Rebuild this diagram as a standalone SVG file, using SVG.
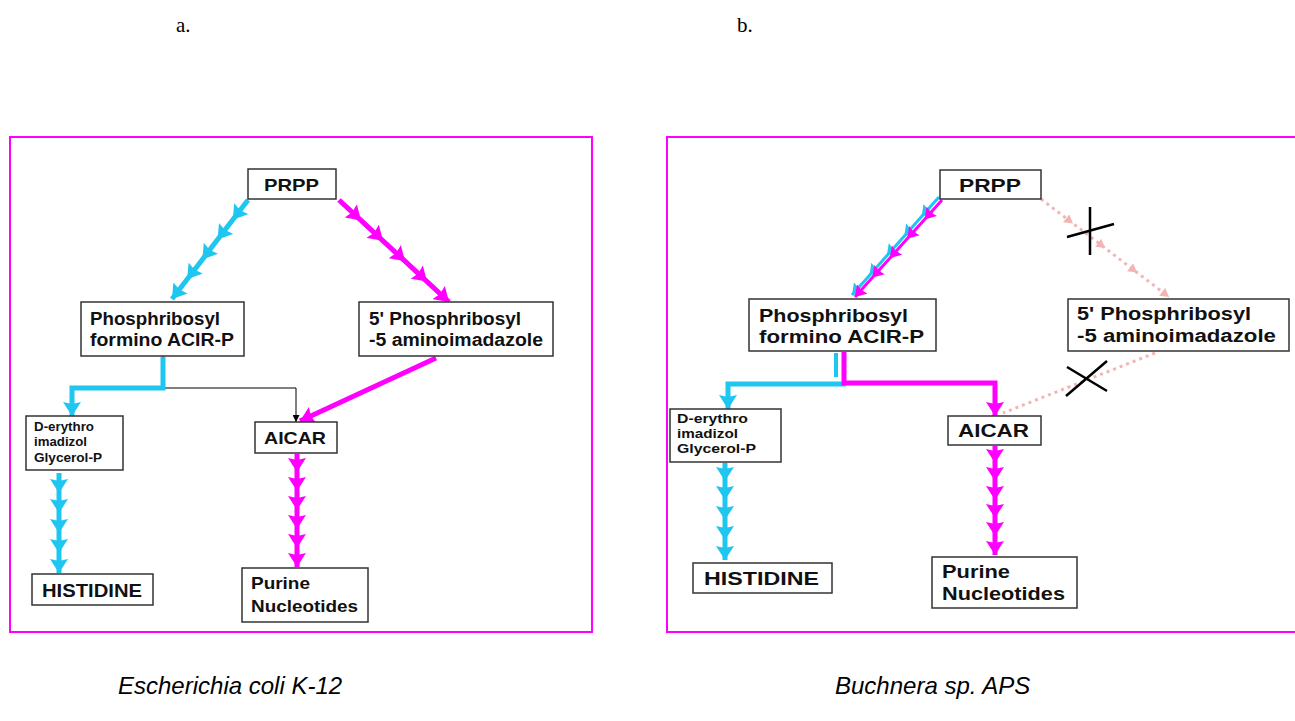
<svg xmlns="http://www.w3.org/2000/svg" width="1295" height="721" viewBox="0 0 1295 721">
<style>
.box{fill:#fff;stroke:#333;stroke-width:1.5}
.lbl{font-family:"Liberation Sans",Arial,sans-serif;font-weight:bold;fill:#111}
.frame{fill:none;stroke:#FF00FF;stroke-width:2}
.cy{fill:none;stroke:#1EC6F0;stroke-linejoin:miter}
.mg{fill:none;stroke:#FF00FF;stroke-linejoin:miter}
.cross{stroke:#000;stroke-width:2.5;fill:none}
.cap{font-family:"Liberation Sans",Arial,sans-serif;font-style:italic;font-size:24px;fill:#000}
.let{font-family:"Liberation Serif","Times New Roman",serif;font-size:21px;fill:#000}
</style>
<defs>
<marker id="hc" viewBox="0 0 14 18" refX="14" refY="9" markerWidth="14" markerHeight="18" markerUnits="userSpaceOnUse" orient="auto"><path d="M0,0 L14,9 L0,18 L2,9 z" fill="#1EC6F0"/></marker>
<marker id="hm" viewBox="0 0 14 18" refX="14" refY="9" markerWidth="14" markerHeight="18" markerUnits="userSpaceOnUse" orient="auto"><path d="M0,0 L14,9 L0,18 L2,9 z" fill="#FF00FF"/></marker>
<marker id="hcs" viewBox="0 0 14 18" refX="14" refY="9" markerWidth="11" markerHeight="14" markerUnits="userSpaceOnUse" orient="auto"><path d="M0,0 L14,9 L0,18 L2,9 z" fill="#1EC6F0"/></marker>
<marker id="hms" viewBox="0 0 14 18" refX="14" refY="9" markerWidth="11" markerHeight="14" markerUnits="userSpaceOnUse" orient="auto"><path d="M0,0 L14,9 L0,18 L2,9 z" fill="#FF00FF"/></marker>
<marker id="hp" viewBox="0 0 12 14" refX="12" refY="7" markerWidth="9" markerHeight="10" markerUnits="userSpaceOnUse" orient="auto"><path d="M0,0 L12,7 L0,14 z" fill="#F4B4B4"/></marker>
<marker id="hk" viewBox="0 0 10 10" refX="10" refY="5" markerWidth="7" markerHeight="7" markerUnits="userSpaceOnUse" orient="auto"><path d="M0,0 L10,5 L0,10 z" fill="#000"/></marker>
</defs>

<text class="let" x="176" y="32">a.</text>
<text class="let" x="737" y="32">b.</text>

<rect class="frame" x="10" y="137" width="582" height="495"/>
<path class="frame" d="M1300,137 H667 V632 H1300"/>

<g id="connectors">
  <!-- panel a -->
  <polyline class="cy" stroke-width="5" points="248,200 232.8,219.8 217.6,239.6 202.4,259.4 187.2,279.2 172,299" marker-mid="url(#hc)" marker-end="url(#hc)"/>
  <polyline class="mg" stroke-width="5" points="339,200 361,220.4 383,240.8 405,261.2 427,281.6 449,302" marker-mid="url(#hm)" marker-end="url(#hm)"/>
  <polyline fill="none" stroke="#000" stroke-width="1" points="163,356 163,388 296,388 296,422" marker-end="url(#hk)"/>
  <polyline class="cy" stroke-width="5" points="163,357 163,388 72,388 72,416" marker-end="url(#hc)"/>
  <line class="mg" stroke-width="5" x1="436" y1="358" x2="300" y2="421" marker-end="url(#hm)"/>
  <polyline class="cy" stroke-width="5" points="59,473 59,493 59,513 59,533 59,553 59,573" marker-mid="url(#hc)" marker-end="url(#hc)"/>
  <polyline class="mg" stroke-width="5" points="297,454 297,472 297,491 297,510 297,529 297,548 297,567" marker-mid="url(#hm)" marker-end="url(#hm)"/>
  <!-- panel b -->
  <polyline class="cy" stroke-width="3" points="939,197 921.6,216.6 904.2,236.2 886.8,255.8 869.4,275.4 852,295" marker-mid="url(#hcs)" marker-end="url(#hcs)"/>
  <polyline class="mg" stroke-width="3" points="942,200 924.6,219.4 907.2,238.8 889.8,258.2 872.4,277.6 855,297" marker-mid="url(#hms)" marker-end="url(#hms)"/>
  <polyline fill="none" stroke="#F4B4B4" stroke-width="3" stroke-dasharray="3 4" points="1041,199 1073,223.5 1105,248 1137,272.5 1169,297" marker-mid="url(#hp)" marker-end="url(#hp)"/>
  <line stroke="#F4B4B4" stroke-width="3" stroke-dasharray="3 4" x1="1155" y1="353" x2="1003" y2="413"/>
  <line class="cy" stroke-width="4" x1="836" y1="353" x2="836" y2="377"/>
  <polyline class="cy" stroke-width="5" points="846,384 728,384 728,409" marker-end="url(#hc)"/>
  <polyline class="mg" stroke-width="5" points="844,352 844,383 995,383 995,416" marker-end="url(#hm)"/>
  <polyline class="cy" stroke-width="5" points="725,463 725,481 725,500 725,520 725,540 725,560" marker-mid="url(#hc)" marker-end="url(#hc)"/>
  <polyline class="mg" stroke-width="5" points="995,446 995,463 995,481 995,500 995,518 995,536 995,555" marker-mid="url(#hm)" marker-end="url(#hm)"/>
  <!-- crosses -->
  <path class="cross" d="M1090,207 V255 M1067,237 L1114,224"/>
  <path class="cross" d="M1067,367 L1107,391 M1066,396 L1107,361"/>
</g>

<!-- panel a nodes -->
<g id="a-prpp"><rect class="box" x="248" y="169" width="88" height="30"/><text class="lbl" font-size="17" x="264" y="191" textLength="55" lengthAdjust="spacingAndGlyphs">PRPP</text></g>
<g id="a-phos"><rect class="box" x="81" y="302" width="163" height="54"/><text class="lbl" font-size="18" x="90" y="325" textLength="130" lengthAdjust="spacingAndGlyphs">Phosphribosyl</text><text class="lbl" font-size="18" x="90" y="346" textLength="144" lengthAdjust="spacingAndGlyphs">formino ACIR-P</text></g>
<g id="a-amino"><rect class="box" x="359" y="302" width="194" height="54"/><text class="lbl" font-size="18" x="369" y="325" textLength="152" lengthAdjust="spacingAndGlyphs">5' Phosphribosyl</text><text class="lbl" font-size="18" x="369" y="346" textLength="174" lengthAdjust="spacingAndGlyphs">-5 aminoimadazole</text></g>
<g id="a-dery"><rect class="box" x="26" y="416" width="97" height="54"/><text class="lbl" font-size="12" x="34" y="431" textLength="60" lengthAdjust="spacingAndGlyphs">D-erythro</text><text class="lbl" font-size="12" x="34" y="446" textLength="53" lengthAdjust="spacingAndGlyphs">imadizol</text><text class="lbl" font-size="12" x="34" y="462" textLength="68" lengthAdjust="spacingAndGlyphs">Glycerol-P</text></g>
<g id="a-aicar"><rect class="box" x="255" y="422" width="82" height="31"/><text class="lbl" font-size="17" x="264" y="444" textLength="62" lengthAdjust="spacingAndGlyphs">AICAR</text></g>
<g id="a-hist"><rect class="box" x="32" y="574" width="121" height="31"/><text class="lbl" font-size="18" x="42" y="597" textLength="100" lengthAdjust="spacingAndGlyphs">HISTIDINE</text></g>
<g id="a-purine"><rect class="box" x="242" y="568" width="126" height="54"/><text class="lbl" font-size="17" x="251" y="589" textLength="59" lengthAdjust="spacingAndGlyphs">Purine</text><text class="lbl" font-size="17" x="251" y="612" textLength="107" lengthAdjust="spacingAndGlyphs">Nucleotides</text></g>

<!-- panel b nodes -->
<g id="b-prpp"><rect class="box" x="940" y="170" width="101" height="29"/><text class="lbl" font-size="18" x="959" y="192" textLength="62" lengthAdjust="spacingAndGlyphs">PRPP</text></g>
<g id="b-phos"><rect class="box" x="749" y="299" width="187" height="52"/><text class="lbl" font-size="19" x="759" y="322" textLength="149" lengthAdjust="spacingAndGlyphs">Phosphribosyl</text><text class="lbl" font-size="19" x="759" y="343" textLength="165" lengthAdjust="spacingAndGlyphs">formino ACIR-P</text></g>
<g id="b-amino"><rect class="box" x="1068" y="299" width="221" height="52"/><text class="lbl" font-size="18" x="1077" y="320" textLength="174" lengthAdjust="spacingAndGlyphs">5' Phosphribosyl</text><text class="lbl" font-size="18" x="1077" y="342" textLength="199" lengthAdjust="spacingAndGlyphs">-5 aminoimadazole</text></g>
<g id="b-dery"><rect class="box" x="670" y="409" width="111" height="53"/><text class="lbl" font-size="12" x="677" y="423" textLength="71" lengthAdjust="spacingAndGlyphs">D-erythro</text><text class="lbl" font-size="12" x="677" y="438" textLength="61" lengthAdjust="spacingAndGlyphs">imadizol</text><text class="lbl" font-size="12" x="677" y="453" textLength="79" lengthAdjust="spacingAndGlyphs">Glycerol-P</text></g>
<g id="b-aicar"><rect class="box" x="948" y="416" width="93" height="29"/><text class="lbl" font-size="18" x="958" y="437" textLength="71" lengthAdjust="spacingAndGlyphs">AICAR</text></g>
<g id="b-hist"><rect class="box" x="693" y="563" width="139" height="30"/><text class="lbl" font-size="19" x="704" y="585" textLength="115" lengthAdjust="spacingAndGlyphs">HISTIDINE</text></g>
<g id="b-purine"><rect class="box" x="932" y="557" width="145" height="51"/><text class="lbl" font-size="18" x="942" y="578" textLength="68" lengthAdjust="spacingAndGlyphs">Purine</text><text class="lbl" font-size="18" x="942" y="600" textLength="123" lengthAdjust="spacingAndGlyphs">Nucleotides</text></g>

<text class="cap" x="118" y="694">Escherichia coli K-12</text>
<text class="cap" x="835" y="694">Buchnera sp. APS</text>
</svg>
